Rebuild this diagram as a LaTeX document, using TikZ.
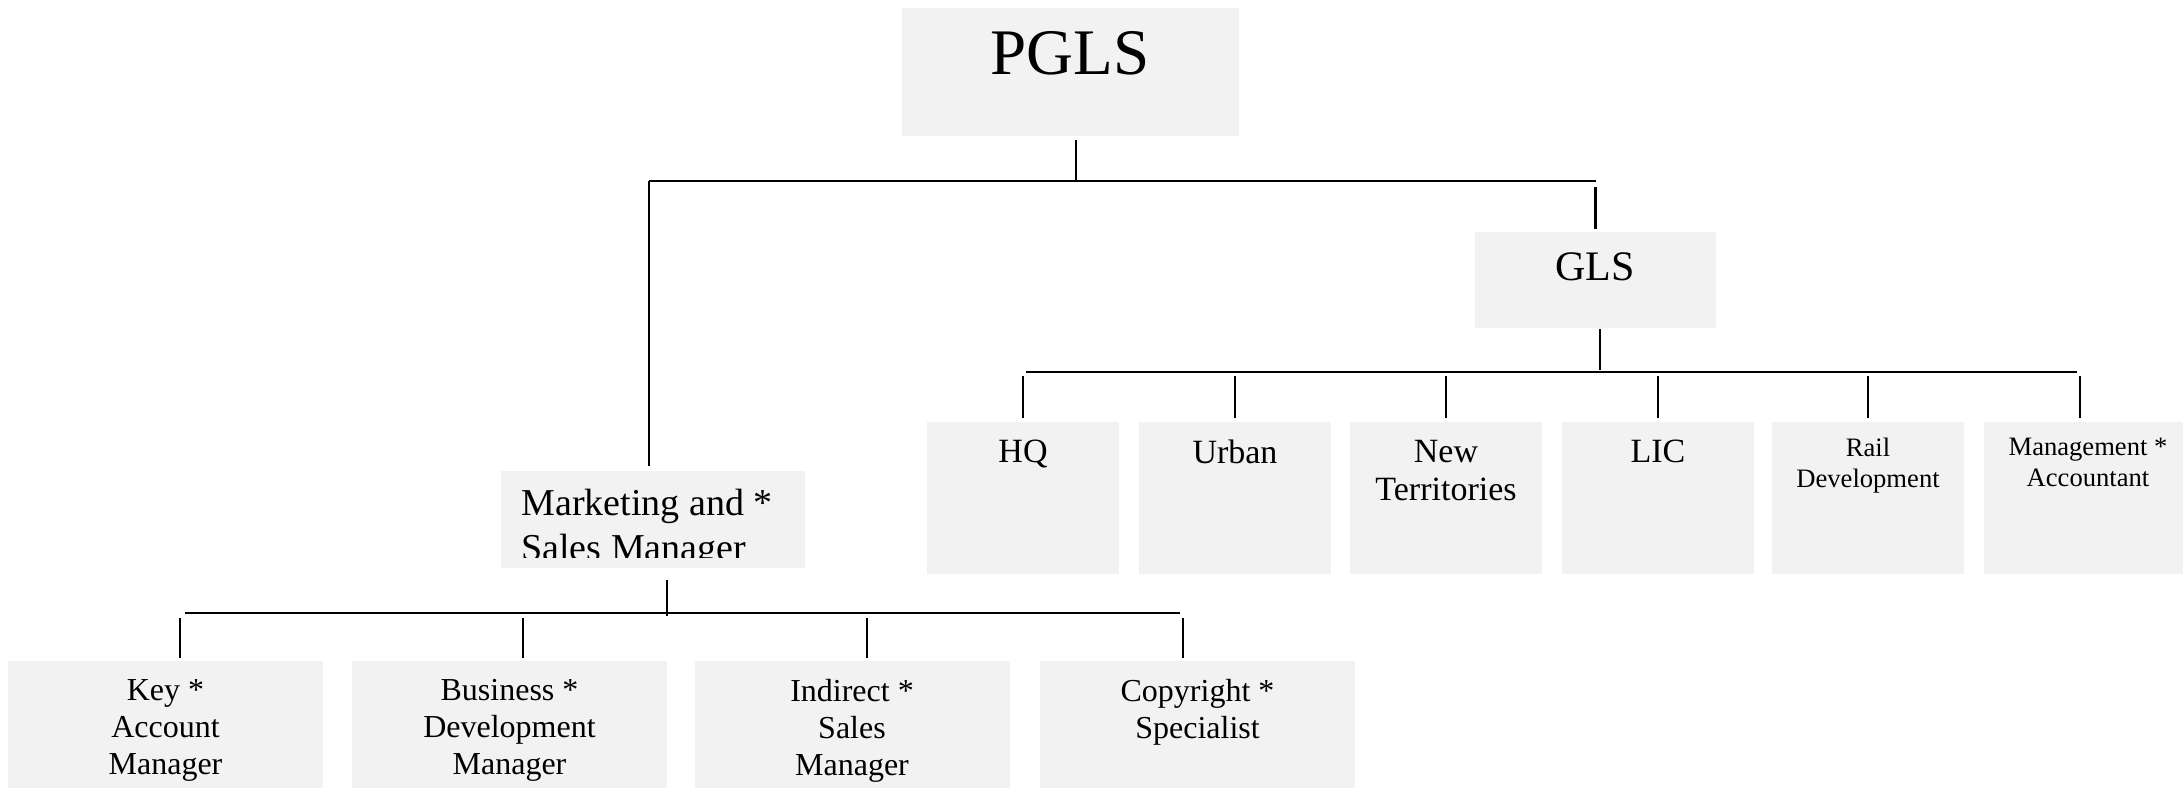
\documentclass[tikz,border=0pt]{standalone}
\usepackage{fontspec}
\setmainfont{Liberation Serif}
\usepackage{xcolor}
\usepackage{tikz}
\definecolor{boxgray}{HTML}{F2F2F2}

\tikzset{
	orgbox/.style={rectangle, fill=boxgray, draw=none, inner sep=0pt, anchor=north},
	unitbox/.style={orgbox, minimum width=96pt, minimum height=76pt},
	staffbox/.style={orgbox, minimum width=157.5pt, minimum height=70pt},
	txt/.style={inner sep=0pt, anchor=north, align=center},
	unittext/.style={txt, font=\fontsize{17}{18.8}\selectfont},
	smalltext/.style={txt, font=\fontsize{13.3}{15.3}\selectfont},
	stafftext/.style={txt, font=\fontsize{16}{18.5}\selectfont},
	link/.style={line width=1.1pt},
}

\begin{document}
\begin{tikzpicture}[x=0.5pt, y=-0.5pt]
		\useasboundingbox (0,0) rectangle (2183,787);

		% top level
		\node[orgbox, minimum width=168.5pt, minimum height=64pt] (pgls) at (1070.5,8) {};
		\node[txt, font=\fontsize{32.5}{39}\selectfont] (pglst) at (1070,31) {PGLS};

		\node[orgbox, minimum width=120.5pt, minimum height=48pt] (gls) at (1595.5,232) {};
		\node[txt, font=\fontsize{21}{25}\selectfont] (glst) at (1595,252) {GLS};

		\node[orgbox, minimum width=152pt, minimum height=48.5pt] (mkt) at (653,471) {};
		\begin{scope}
			\clip (mkt.north west) rectangle ([yshift=5.5pt]mkt.south east);
			\node[inner sep=0pt, anchor=north west, align=left, font=\fontsize{19}{22.5}\selectfont] (mktt) at (521,489) {Marketing and *\\Sales Manager};
		\end{scope}

		% GLS units
		\node[unitbox] (hq) at (1023,422) {};
		\node[unitbox] (urban) at (1235,422) {};
		\node[unitbox] (newt) at (1446,422) {};
		\node[unitbox] (lic) at (1658,422) {};
		\node[unitbox] (rail) at (1868,422) {};
		\node[unitbox, minimum width=104pt] (mgmt) at (2088,422) {};

		\node[unittext] (hqt) at (1023,440) {HQ};
		\node[unittext] (urbant) at (1235,440) {Urban};
		\node[unittext] (newtt) at (1446,440) {New\\Territories};
		\node[unittext] (lict) at (1658,440) {LIC};
		\node[smalltext] (railt) at (1868,438) {Rail\\Development};
		\node[smalltext] (mgmtt) at (2088,438) {Management *\\Accountant};

		% sales staff
		\node[staffbox] (key) at (165.5,661) {};
		\node[staffbox] (bdm) at (509.5,661) {};
		\node[staffbox] (ism) at (852,661) {};
		\node[staffbox] (copy) at (1197.5,661) {};

		\node[stafftext] (keyt) at (165.5,679) {Key *\\Account\\Manager};
		\node[stafftext] (bdmt) at (509.5,679) {Business *\\Development\\Manager};
		\node[stafftext] (ismt) at (852,679) {Indirect *\\Sales\\Manager};
		\node[stafftext] (copyt) at (1197.5,679) {Copyright *\\Specialist};

		% connectors
		\coordinate (topbusL) at (649,181);
		\coordinate (topbusR) at (1596,181);
		\coordinate (pglsj) at (1076,181);
		\draw[link] (topbusL) -- (topbusR);
		\draw[link, shorten <=1.5pt] (pglsj |- pgls.south) -- (pglsj);
		\draw[link, shorten >=2.5pt] (topbusL) -- (topbusL |- mkt.north);
		\draw[link, shorten <=3pt, shorten >=1.5pt] (gls.north |- topbusR) -- (gls.north);

		\coordinate (glsbusL) at (1026,372);
		\coordinate (glsbusR) at (2077,372);
		\coordinate (glsj) at (1600,370);
		\coordinate (mgmtj) at (2080,372);
		\draw[link] (glsbusL) -- (glsbusR);
		\draw[link] (glsj |- gls.south) -- (glsj);
		\draw[link, shorten <=2pt, shorten >=2pt] (hq.north) -- (hq.north |- glsbusL);
		\draw[link, shorten <=2pt, shorten >=2pt] (urban.north) -- (urban.north |- glsbusL);
		\draw[link, shorten <=2pt, shorten >=2pt] (newt.north) -- (newt.north |- glsbusL);
		\draw[link, shorten <=2pt, shorten >=2pt] (lic.north) -- (lic.north |- glsbusL);
		\draw[link, shorten <=2pt, shorten >=2pt] (rail.north) -- (rail.north |- glsbusL);
		\draw[link, shorten <=2pt, shorten >=2pt] (mgmtj |- mgmt.north) -- (mgmtj);

		\coordinate (lowbusL) at (185,613);
		\coordinate (lowbusR) at (1180,613);
		\coordinate (mktj) at (667,616);
		\coordinate (keyj) at (180,613);
		\coordinate (bdmj) at (523,613);
		\coordinate (ismj) at (867,613);
		\coordinate (copyj) at (1183,613);
		\draw[link] (lowbusL) -- (lowbusR);
		\draw[link, shorten <=5.5pt] (mktj |- mkt.south) -- (mktj);
		\draw[link, shorten <=1.5pt, shorten >=2.5pt] (keyj |- key.north) -- (keyj);
		\draw[link, shorten <=1.5pt, shorten >=2.5pt] (bdmj |- bdm.north) -- (bdmj);
		\draw[link, shorten <=1.5pt, shorten >=2.5pt] (ismj |- ism.north) -- (ismj);
		\draw[link, shorten <=1.5pt, shorten >=2.5pt] (copyj |- copy.north) -- (copyj);
	\end{tikzpicture}
\end{document}
